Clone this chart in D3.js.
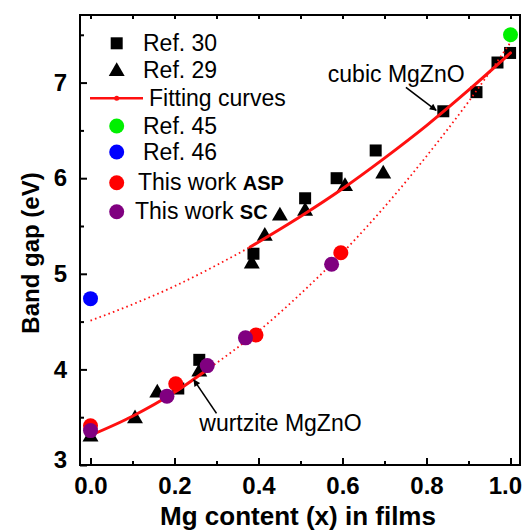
<!DOCTYPE html>
<html>
<head>
<meta charset="utf-8">
<script src="https://cdn.jsdelivr.net/npm/d3@7"></script>
<style>
  html, body { margin: 0; padding: 0; background: #fff; }
  svg { display: block; font-family: "Liberation Sans", Arial, sans-serif; }
</style>
</head>
<body>
<svg id="chart" width="524" height="532"></svg>
<script>
// ---------------- data ----------------
const ref30 = [[0.209,3.80],[0.259,4.10],[0.388,5.21],[0.511,5.79],[0.586,6.00],[0.679,6.29],[0.840,6.70],[0.919,6.90],[0.969,7.21],[0.999,7.31]];
const ref29 = [[0.0,3.31],[0.106,3.50],[0.159,3.77],[0.259,3.99],[0.384,5.12],[0.415,5.41],[0.451,5.62],[0.511,5.67],[0.606,5.93],[0.697,6.06]];
const ref45 = [[1.0,7.50]];
const ref46 = [[0.0,4.74]];
const thisASP = [[0.0,3.41],[0.203,3.85],[0.394,4.36],[0.596,5.22]];
const thisSC = [[0.0,3.36],[0.182,3.72],[0.278,4.04],[0.369,4.33],[0.574,5.10]];
// fitting curves
const cubicDotted = [[0.0,4.51],[0.1,4.68],[0.2,4.87],[0.3,5.09],[0.38,5.28]];
const cubicSolid = [[0.38,5.28],[0.5,5.60],[0.6,5.89],[0.7,6.21],[0.8,6.55],[0.9,6.92],[1.0,7.31]];
const wurtzSolid = [[0.0,3.31],[0.1,3.51],[0.2,3.76],[0.285,4.02]];
const wurtzDotted = [[0.285,4.02],[0.4,4.40],[0.5,4.79],[0.6,5.22],[0.7,5.70],[0.8,6.23],[0.9,6.80],[1.0,7.42]];
const xMajorTicks = [0.0,0.2,0.4,0.6,0.8,1.0];
const xMinorTicks = [0.1,0.3,0.5,0.7,0.9];
const yMajorTicks = [3,4,5,6,7];
const yMinorTicks = [3.5,4.5,5.5,6.5,7.5];
const legendLabels = ["Ref. 30","Ref. 29","Fitting curves","Ref. 45","Ref. 46","This work ","This work "];
const legendBold = ["","","","","","ASP","SC"];
const annotations = [
  {text:"cubic MgZnO", tx:0.565, ty:7.006, from:[0.751,6.95], to:[0.823,6.71]},
  {text:"wurtzite MgZnO", tx:0.259, ty:3.36, from:[0.300,3.54], to:[0.246,3.89]}
];
const xTitle = "Mg content (x) in films";
const yTitle = "Band gap (eV)";

// ---------------- layout ----------------
const svg = d3.select("#chart");
const L = 80, R = 520, T = 15, B = 465;
const x = d3.scaleLinear().domain([-0.025, 1.0226]).range([L, R]);
const y = d3.scaleLinear().domain([3, 7.707]).range([B, T]);
const FONT = "'Liberation Sans', Arial, sans-serif";

const defs = svg.append("defs");
defs.append("marker").attr("id","arrow").attr("viewBox","0 0 10 10")
  .attr("refX",9).attr("refY",5).attr("markerWidth",9).attr("markerHeight",7)
  .attr("markerUnits","userSpaceOnUse").attr("orient","auto")
  .append("path").attr("d","M0,0 L10,5 L0,10 Z").attr("fill","#000");

const line = d3.line().x(d=>x(d[0])).y(d=>y(d[1])).curve(d3.curveMonotoneX);
const g = svg.append("g");

// squares & triangles
const sq = d3.symbol().type(d3.symbolSquare).size(144);
const tri = d3.symbol().type(d3.symbolTriangle).size(110);
g.selectAll(".sq").data(ref30).join("path").attr("d",sq)
  .attr("transform",d=>`translate(${x(d[0])},${y(d[1])})`).attr("fill","#000");
g.selectAll(".tri").data(ref29).join("path").attr("d",tri)
  .attr("transform",d=>`translate(${x(d[0])},${y(d[1])+1.5})`).attr("fill","#000");

// fitting curves
[[cubicDotted,true],[wurtzDotted,true],[cubicSolid,false],[wurtzSolid,false]].forEach(([data,dotted])=>{
  g.append("path").datum(data).attr("d",line).attr("fill","none")
    .attr("stroke","#ff1010")
    .attr("stroke-width",dotted?1.8:3)
    .attr("stroke-dasharray",dotted?"1.6,3.2":null)
    .attr("stroke-linecap",dotted?"butt":"round");
});

function circles(data,color){
  g.append("g").selectAll("circle").data(data).join("circle")
    .attr("cx",d=>x(d[0])).attr("cy",d=>y(d[1])).attr("r",7.5).attr("fill",color);
}
circles(ref45,"#00f000");
circles(ref46,"#0000ff");
circles(thisASP,"#ff0000");
circles(thisSC,"#800080");

// frame
svg.append("rect").attr("x",x.range()[0]).attr("y",y.range()[1])
  .attr("width",x.range()[1]-x.range()[0]).attr("height",y.range()[0]-y.range()[1])
  .attr("fill","none").attr("stroke","#000").attr("stroke-width",2);

// axes
function styleAxis(sel){
  sel.select(".domain").remove();
  sel.selectAll(".tick line").attr("stroke","#000").attr("stroke-width",2);
  sel.selectAll("text").attr("fill","#000").style("font-family",FONT)
     .style("font-size","24px").style("font-weight","bold");
}
const xAxisG = svg.append("g").attr("transform",`translate(0,${B})`)
  .call(d3.axisBottom(x).tickValues(xMajorTicks).tickSize(-7).tickPadding(12).tickFormat(d3.format(".1f")))
  .call(styleAxis);
// keep the last label inside the window, as in the reference
xAxisG.selectAll(".tick text").filter(d=>d===1).attr("text-anchor","end").attr("x",11);
svg.append("g").attr("transform",`translate(0,${B})`)
  .call(d3.axisBottom(x).tickValues(xMinorTicks).tickSize(-4).tickFormat(""))
  .call(styleAxis);
svg.append("g").attr("transform",`translate(0,${T})`)
  .call(d3.axisTop(x).tickValues(xMajorTicks.concat(xMinorTicks)).tickSize(-4).tickFormat(""))
  .call(styleAxis);
svg.append("g").attr("transform",`translate(${L},0)`)
  .call(d3.axisLeft(y).tickValues(yMajorTicks).tickSize(-7).tickPadding(13).tickFormat(d3.format("d")))
  .call(styleAxis);
svg.append("g").attr("transform",`translate(${L},0)`)
  .call(d3.axisLeft(y).tickValues(yMinorTicks.filter(v=>v<=y.domain()[1])).tickSize(-4).tickFormat(""))
  .call(styleAxis);
svg.selectAll(".tick text").filter(function(){return this.textContent==="3";}).attr("dy","0.1em");

// axis titles
svg.append("text").attr("x",298).attr("y",525).attr("text-anchor","middle")
  .style("font-family",FONT).style("font-size","26px").style("font-weight","bold").text(xTitle);
svg.append("text").attr("transform","translate(39,253) rotate(-90)").attr("text-anchor","middle")
  .style("font-family",FONT).style("font-size","24px").style("font-weight","bold").text(yTitle);

// annotations
annotations.forEach(a=>{
  svg.append("text").attr("x",x(a.tx)).attr("y",y(a.ty))
    .style("font-family",FONT).style("font-size","23px").text(a.text);
  svg.append("line").attr("x1",x(a.from[0])).attr("y1",y(a.from[1]))
    .attr("x2",x(a.to[0])).attr("y2",y(a.to[1]))
    .attr("stroke","#000").attr("stroke-width",1.6).attr("marker-end","url(#arrow)");
});

// legend
const legRows = [43.3,70,98.3,126,152,182.7,211.7];
const legTextX = [143,143,149,143,143,138,135];
const lg = svg.append("g");
const mx = 116.7;
lg.append("path").attr("d",sq).attr("transform",`translate(${mx},${legRows[0]})`).attr("fill","#000");
lg.append("path").attr("d",tri).attr("transform",`translate(${mx},${legRows[1]+1.5})`).attr("fill","#000");
lg.append("line").attr("x1",90).attr("x2",143).attr("y1",legRows[2]).attr("y2",legRows[2])
  .attr("stroke","#ff1010").attr("stroke-width",2.5);
lg.append("circle").attr("cx",mx).attr("cy",legRows[2]).attr("r",2.5).attr("fill","#ff1010");
[["#00f000",3],["#0000ff",4],["#ff0000",5],["#800080",6]].forEach(([c,i])=>{
  lg.append("circle").attr("cx",mx).attr("cy",legRows[i]).attr("r",7.5).attr("fill",c);
});
legendLabels.forEach((t,i)=>{
  const tx = lg.append("text").attr("x",legTextX[i]).attr("y",legRows[i]+7.5)
    .style("font-family",FONT).style("font-size","23px").attr("xml:space","preserve");
  tx.append("tspan").text(t);
  if (legendBold[i]) tx.append("tspan").style("font-weight","bold").style("font-size","20px").text(legendBold[i]);
});
</script>
</body>
</html>
